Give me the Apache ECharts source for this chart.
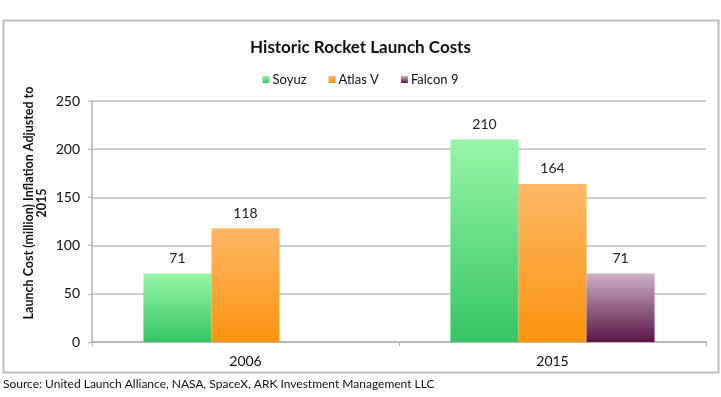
<!DOCTYPE html>
<html>
<head>
<meta charset="utf-8">
<script src="https://cdn.jsdelivr.net/npm/echarts@6/dist/echarts.min.js"></script>
<style>
  html, body { margin: 0; padding: 0; background: #fff; }
  #chart { width: 721px; height: 397px; }
</style>
</head>
<body>
<div id="chart"></div>
<script>
const years = ['2006', '2015'];
const soyuz = [71, 210];
const atlasV = [118, 164];
const falcon9 = [null, 71];
const yTicks = { min: 0, max: 250, interval: 50 };
const yTitleLines = ['Launch Cost (million) Inflation Adjusted to', '2015'];

const FONT = 'Lato';

function grad(top, bottom) {
  return new echarts.graphic.LinearGradient(0, 0, 0, 1, [
    { offset: 0, color: top },
    { offset: 1, color: bottom },
  ]);
}

const chart = echarts.init(document.getElementById('chart'));

const labelStyle = {
  show: true,
  position: 'top',
  distance: 8,
  color: '#222',
  fontFamily: FONT,
  fontSize: 14,
};

// y axis title drawn as two rotated lines, each centred on the same point
const yTitle = yTitleLines.map((line, i) => ({
  type: 'text',
  id: 'ytitle' + i,
  x: 29 + i * 13,
  y: 203,
  rotation: Math.PI / 2,
  silent: true,
  style: {
    text: line,
    font: 'bold 12.5px ' + FONT,
    fill: '#111',
    textAlign: 'center',
    textVerticalAlign: 'middle',
  },
}));

const option = {
  animation: false,
  textStyle: { fontFamily: FONT },
  title: {
    text: 'Historic Rocket Launch Costs',
    left: 'center',
    top: 34,
    textStyle: { fontFamily: FONT, fontSize: 17, fontWeight: 'bold', color: '#111' },
  },
  legend: {
    top: 68,
    left: 'center',
    itemWidth: 7,
    itemHeight: 7,
    itemGap: 22,
    icon: 'rect',
    textStyle: { fontFamily: FONT, fontSize: 13, color: '#111', padding: [0, 0, 0, -2] },
    data: ['Soyuz', 'Atlas V', 'Falcon 9'],
  },
  graphic: [
    {
      type: 'rect',
      shape: { x: 3.5, y: 20.5, width: 715, height: 352 },
      style: { fill: 'none', stroke: '#bdbdbd', lineWidth: 2 },
      silent: true,
    },
    ...yTitle,
    {
      type: 'text',
      left: 3,
      top: 378,
      style: {
        text: 'Source: United Launch Alliance, NASA, SpaceX, ARK Investment Management LLC',
        font: '12px ' + FONT,
        fill: '#111',
      },
    },
  ],
  grid: { left: 92, right: 15, top: 101, bottom: 55 },
  xAxis: {
    type: 'category',
    data: years,
    axisLine: { lineStyle: { color: '#b0b0b0', width: 1.5 } },
    axisTick: { show: true, length: 4, lineStyle: { color: '#b0b0b0' } },
    axisLabel: { color: '#111', fontSize: 14, fontFamily: FONT, margin: 12 },
  },
  yAxis: {
    type: 'value',
    min: yTicks.min,
    max: yTicks.max,
    interval: yTicks.interval,
    axisLine: { show: true, lineStyle: { color: '#b0b0b0', width: 1.5 } },
    axisTick: { show: true, length: 4, lineStyle: { color: '#b0b0b0' } },
    axisLabel: { color: '#111', fontSize: 14, fontFamily: FONT, margin: 12 },
    splitLine: { lineStyle: { color: '#bcbcbc', width: 1.5 } },
  },
  series: [
    {
      name: 'Soyuz',
      type: 'bar',
      data: soyuz,
      barGap: '0%',
      barCategoryGap: '33.5%',
      itemStyle: { color: grad('#98f6a8', '#35c565') },
      label: labelStyle,
    },
    {
      name: 'Atlas V',
      type: 'bar',
      data: atlasV,
      itemStyle: { color: grad('#fdb765', '#fb9410') },
      label: labelStyle,
    },
    {
      name: 'Falcon 9',
      type: 'bar',
      data: falcon9,
      itemStyle: { color: grad('#cdb0c8', '#5a1446') },
      label: labelStyle,
    },
  ],
};

chart.setOption(option);
</script>
</body>
</html>
